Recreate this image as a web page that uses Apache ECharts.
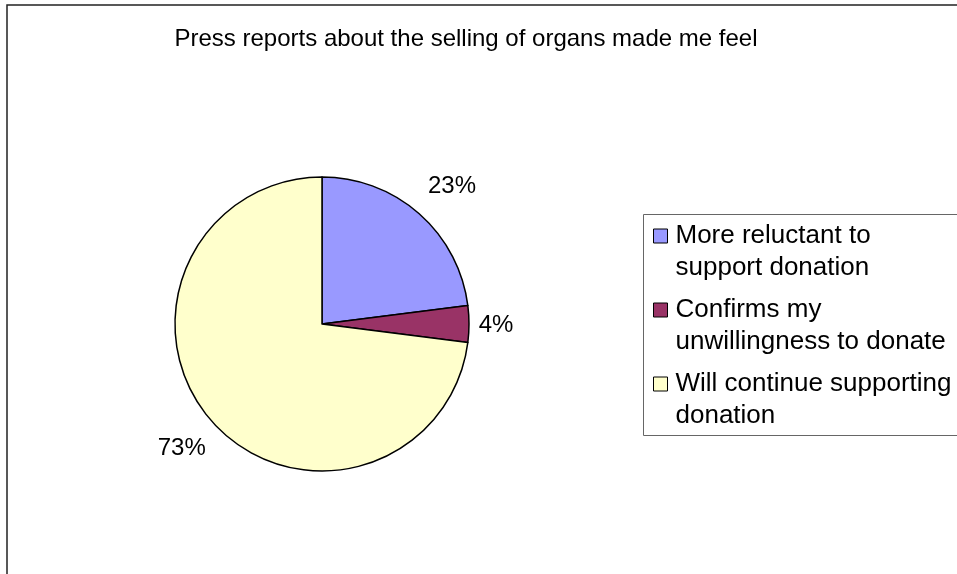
<!DOCTYPE html>
<html>
<head>
<meta charset="utf-8">
<script src="https://cdn.jsdelivr.net/npm/echarts@6/dist/echarts.min.js"></script>
<style>
html,body{margin:0;padding:0;background:#fff;}
#chart{width:957px;height:574px;}
</style>
</head>
<body>
<div id="chart"></div>
<script>
const titleText = 'Press reports about the selling of organs made me feel';
const categories = ['More reluctant to support donation', 'Confirms my unwillingness to donate', 'Will continue supporting donation'];
const legendLines = [['More reluctant to', 'support donation'], ['Confirms my', 'unwillingness to donate'], ['Will continue supporting', 'donation']];
const values = [23, 4, 73];
const colors = ['#9999FF', '#993366', '#FFFFCC'];
const labelPull = [42, 27, 40];
const labelShift = [[5, 4], [0, 1], [0, 1]];

const FONT = '"Liberation Sans", Arial, sans-serif';
const chart = echarts.init(document.getElementById('chart'), null, {renderer: 'canvas'});

const data = categories.map((name, i) => ({
  name: name,
  value: values[i],
  itemStyle: {color: colors[i]},
  labelLine: {show: false, length: labelPull[i], length2: 0}
}));

chart.setOption({
  backgroundColor: '#ffffff',
  animation: false,
  title: {
    text: titleText,
    left: 466,
    textAlign: 'center',
    top: 27,
    padding: 0,
    textStyle: {fontFamily: FONT, fontSize: 24, fontWeight: 'normal', color: '#000'}
  },
  graphic: [
    {type: 'rect', shape: {x: 7, y: 5, width: 1000, height: 1000}, style: {fill: 'none', stroke: '#222', lineWidth: 1.5}, silent: true, z: -1},
    {type: 'rect', shape: {x: 643.5, y: 214.5, width: 400, height: 221}, style: {fill: '#fff', stroke: '#666', lineWidth: 1}, silent: true, z: -1}
  ],
  legend: {
    orient: 'vertical',
    left: 653,
    top: 188,
    padding: 0,
    itemWidth: 14,
    itemHeight: 14,
    itemGap: -22,
    icon: 'rect',
    itemStyle: {borderColor: '#000', borderWidth: 1},
    data: categories,
    formatter: function (name) {
      return ' \n' + legendLines[categories.indexOf(name)].join('\n');
    },
    textStyle: {fontFamily: FONT, fontSize: 26, lineHeight: 32, color: '#000', padding: [0, 0, 0, 3]}
  },
  series: [{
    type: 'pie',
    center: [322, 324],
    radius: 147,
    startAngle: 90,
    clockwise: true,
    avoidLabelOverlap: false,
    data: data,
    itemStyle: {borderColor: '#000', borderWidth: 1.5},
    label: {
      show: true,
      position: 'outside',
      formatter: '{d}%',
      distanceToLabelLine: 0,
      fontFamily: FONT,
      fontSize: 24,
      color: '#000'
    },
    labelLine: {show: false},
    labelLayout: function (p) { return {align: 'center', dx: labelShift[p.dataIndex][0], dy: labelShift[p.dataIndex][1]}; },
    emphasis: {disabled: true}
  }]
});
</script>
</body>
</html>
